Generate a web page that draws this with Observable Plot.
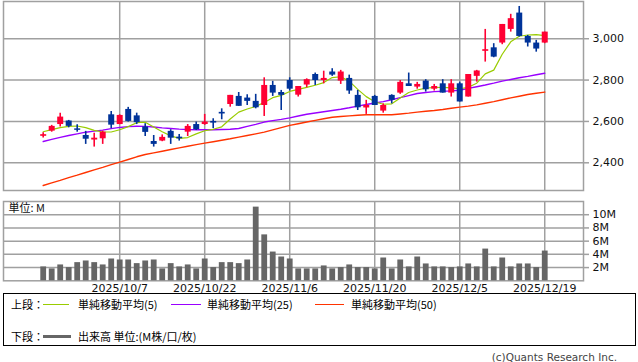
<!DOCTYPE html>
<html><head><meta charset="utf-8">
<script src="https://cdn.jsdelivr.net/npm/d3@7"></script>
<script src="https://cdn.jsdelivr.net/npm/@observablehq/plot@0.6"></script>
<style>
html,body{margin:0;padding:0;background:#fff;}
body{width:638px;height:362px;overflow:hidden;position:relative;font-family:"DejaVu Sans","Noto Sans CJK JP",sans-serif;}
#price,#vol{position:absolute;left:0;}
#price{top:0;} #vol{top:192px;}
#legend{position:absolute;left:3px;top:293px;width:633px;height:53px;border:1px solid #000;box-sizing:border-box;}
.lg{position:absolute;font-family:"Noto Sans CJK JP",sans-serif;font-size:11px;line-height:14px;color:#000;white-space:nowrap;}
.ln{position:absolute;height:1px;}
#copy{position:absolute;right:21px;top:350px;font-family:"DejaVu Sans",sans-serif;font-size:10.5px;line-height:14px;color:#444;}
</style></head>
<body>
<div id="price"></div>
<div id="vol"></div>
<div id="legend"></div>
<div id="copy"></div>
<script>
const dates = ["2025/9/24","2025/9/25","2025/9/26","2025/9/29","2025/9/30",
"2025/10/1","2025/10/2","2025/10/3","2025/10/6","2025/10/7","2025/10/8","2025/10/9","2025/10/10",
"2025/10/14","2025/10/15","2025/10/16","2025/10/17","2025/10/20","2025/10/21","2025/10/22",
"2025/10/23","2025/10/24","2025/10/27","2025/10/28","2025/10/29","2025/10/30","2025/10/31",
"2025/11/4","2025/11/5","2025/11/6","2025/11/7","2025/11/10","2025/11/11","2025/11/12","2025/11/13","2025/11/14",
"2025/11/17","2025/11/18","2025/11/19","2025/11/20","2025/11/21","2025/11/25","2025/11/26","2025/11/27","2025/11/28",
"2025/12/1","2025/12/2","2025/12/3","2025/12/4","2025/12/5","2025/12/8","2025/12/9","2025/12/10","2025/12/11","2025/12/12",
"2025/12/15","2025/12/16","2025/12/17","2025/12/18","2025/12/19"];
const open  = [2528,2553,2585,2602,2564,2532,2510,2516,2632,2585,2658,2627,2573,2503,2505,2552,2524,2548,2585,2585,
               2600,2644,2682,2721,2713,2697,2677,2774,2740,2798,2727,2776,2827,2798,2839,2795,2808,2726,2665,2721,
               2650,2726,2737,2782,2766,2795,2756,2782,2737,2782,2718,2818,2939,2956,2979,3045,3124,3011,2979,2979];
const high  = [2545,2581,2640,2605,2584,2552,2543,2553,2648,2632,2668,2640,2589,2532,2535,2560,2537,2585,2597,2634,
               2613,2661,2726,2740,2729,2731,2811,2794,2750,2811,2769,2806,2834,2843,2855,2847,2824,2750,2702,2726,
               2685,2729,2798,2834,2789,2802,2779,2802,2802,2790,2827,2847,3045,2976,3069,3118,3156,3016,2992,3032];
const low   = [2520,2548,2573,2569,2548,2489,2476,2489,2565,2584,2597,2585,2527,2476,2502,2489,2505,2527,2556,2581,
               2565,2608,2669,2673,2677,2661,2624,2721,2653,2747,2718,2763,2774,2782,2818,2779,2731,2653,2634,2677,
               2640,2685,2731,2769,2756,2742,2747,2737,2718,2694,2718,2790,2887,2908,2971,3032,3008,2960,2935,2976];
const close = [2536,2576,2621,2576,2557,2514,2519,2548,2582,2629,2600,2594,2547,2489,2523,2519,2516,2576,2560,2597,
               2592,2636,2726,2673,2697,2666,2774,2737,2726,2756,2769,2802,2798,2808,2824,2839,2747,2666,2677,2677,
               2677,2702,2789,2769,2779,2753,2769,2737,2782,2694,2827,2844,2947,2911,3069,3097,3011,2979,2950,3032];
const ma5   = [2550,2560,2570,2576,2578,2570,2557,2549,2549,2560,2575,2594,2596,2573,2550,2530,2518,2522,2540,2555,
               2562,2574,2612,2645,2660,2672,2692,2715,2726,2745,2755,2765,2775,2788,2812,2816,2795,2755,2720,2695,
               2683,2685,2713,2740,2752,2761,2764,2765,2762,2758,2765,2785,2830,2848,2925,2985,3012,3018,3020,3015];
const ma25  = [2503,2513,2523,2532,2540,2548,2553,2558,2565,2571,2575,2577,2576,2573,2569,2566,2563,2561,2560,2560,
               2560,2561,2562,2566,2576,2586,2597,2604,2610,2617,2626,2635,2641,2647,2653,2659,2666,2674,2682,2689,
               2696,2705,2715,2725,2735,2740,2744,2746,2748,2751,2760,2768,2776,2785,2795,2803,2811,2818,2826,2833];
const ma50  = [2290,2303,2315,2328,2340,2353,2366,2378,2391,2403,2416,2429,2440,2448,2456,2464,2472,2480,2488,2495,
               2502,2509,2516,2524,2532,2540,2548,2559,2570,2581,2589,2597,2605,2613,2620,2624,2627,2630,2632,2632,
               2632,2632,2636,2640,2645,2649,2653,2658,2664,2669,2674,2680,2688,2696,2705,2714,2722,2730,2736,2742];
const volume = [2.1,1.8,2.4,2.0,2.75,3.0,2.75,2.4,3.3,3.15,3.15,2.6,3.0,3.15,1.8,2.6,2.1,2.4,1.8,3.3,
                2.0,2.75,2.75,2.6,3.15,11.15,6.95,4.35,3.6,3.3,1.8,1.8,1.8,2.25,1.8,2.0,2.4,2.0,2.0,1.8,
                3.45,1.8,3.15,2.1,3.6,2.55,2.1,2.1,2.0,2.1,2.55,2.1,4.8,2.1,3.45,2.1,2.55,2.55,2.0,4.5];
const dateTickLabels = ["2025/10/7","2025/10/22","2025/11/6","2025/11/20","2025/12/5","2025/12/19"];
const priceTicks = [2400,2600,2800,3000];
const volumeTicks = [2,4,6,8,10];
const legendTop = ["単純移動平均(5)","単純移動平均(25)","単純移動平均(50)"];
const legendBottom = "出来高 単位:(M株/口/枚)";

const UP = "#ff0033", DOWN = "#003399", GRID = "#a0a0a0";
const maColors = ["#99cc00","#9900ff","#ff3300"];

const candles = dates.map((d,i)=>({i, d, o:open[i], h:high[i], l:low[i], c:close[i]}));
const maRows = (arr,name)=>arr.map((v,i)=>({i,v,name}));
const tickIdx = dateTickLabels.map(s=>dates.indexOf(s));
const xDomain = [-4.67, 63.56];
const col = d => d.c >= d.o ? UP : DOWN;
const font = {fontFamily:"DejaVu Sans, Noto Sans CJK JP, sans-serif", fontSize:"11px", background:"transparent", overflow:"visible"};

const price = Plot.plot({
  width:638, height:192, marginLeft:3, marginRight:55, marginTop:1, marginBottom:2,
  style: font,
  x:{domain:xDomain, axis:null},
  y:{domain:[2266,3180], axis:null},
  marks:[
    Plot.ruleY(priceTicks, {stroke:GRID, strokeWidth:1.5}),
    Plot.ruleX(tickIdx, {stroke:GRID, strokeWidth:1.5}),
    Plot.frame({stroke:GRID, strokeWidth:1.5}),
    Plot.axisY(priceTicks, {anchor:"right", label:null, tickSize:5, tickPadding:4, stroke:GRID, strokeWidth:1.5, fill:"#111", tickFormat:d3.format(",")}),
    Plot.line(maRows(ma50,"50"), {x:"i", y:"v", stroke:maColors[2], strokeWidth:1.4}),
    Plot.line(maRows(ma25,"25"), {x:"i", y:"v", stroke:maColors[1], strokeWidth:1.4}),
    Plot.line(maRows(ma5,"5"), {x:"i", y:"v", stroke:maColors[0], strokeWidth:1.2}),
    Plot.ruleX(candles, {x:"i", y1:"l", y2:"h", stroke:col, strokeWidth:1.6}),
    Plot.ruleX(candles, {x:"i", y1:"o", y2:"c", stroke:col, strokeWidth:6})
  ]
});
document.getElementById("price").append(price);

const volRows = volume.map((v,i)=>({i,v}));
const vol = Plot.plot({
  width:638, height:100, marginLeft:3, marginRight:55, marginTop:9, marginBottom:11.7,
  style: font,
  x:{domain:xDomain, axis:null},
  y:{domain:[0,12], axis:null},
  marks:[
    Plot.ruleY(volumeTicks, {stroke:GRID, strokeWidth:1.5}),
    Plot.ruleX(tickIdx, {stroke:GRID, strokeWidth:1.5}),
    Plot.frame({stroke:GRID, strokeWidth:1.5}),
    Plot.ruleX(volRows, {x:"i", y1:0, y2:"v", stroke:"#666666", strokeWidth:5.8}),
    Plot.axisY(volumeTicks, {anchor:"right", label:null, tickSize:5, tickPadding:4, stroke:GRID, strokeWidth:1.5, fill:"#111", tickFormat:d=>d+"M"}),
    Plot.axisX(tickIdx, {anchor:"bottom", label:null, tickSize:0, tickPadding:3, fill:"#111", tickFormat:i=>dates[i]}),
    Plot.text(["単位: M"], {frameAnchor:"top-left", dx:5, dy:3, fill:"#111", fontFamily:"Noto Sans CJK JP, sans-serif", fontSize:11})
  ]
});
document.getElementById("vol").append(vol);

// legend
const lg = document.getElementById("legend");
function add(html, x, yc, cls){ const e=document.createElement("div"); e.className=cls; e.textContent=html; e.style.left=(x-4)+"px"; e.style.top=(yc-293-7-1)+"px"; lg.append(e); return e; }
function line(x1,x2,yc,color,h){ const e=document.createElement("div"); e.className="ln"; e.style.left=(x1-4)+"px"; e.style.width=(x2-x1)+"px"; e.style.top=(yc-293-1-h/2)+"px"; e.style.height=h+"px"; e.style.background=color; lg.append(e); }
add("上段：", 11, 304, "lg");
line(43,69,304,maColors[0],1);
add(legendTop[0], 78, 304, "lg");
line(171,201,304,maColors[1],1);
add(legendTop[1], 207, 304, "lg");
line(315,344,304,maColors[2],1);
add(legendTop[2], 351, 304, "lg");
add("下段：", 11, 336, "lg");
line(43,71,336,"#666666",3);
add(legendBottom, 78, 336, "lg");
document.getElementById("copy").textContent = "(c)Quants Research Inc.";
</script>
</body></html>
